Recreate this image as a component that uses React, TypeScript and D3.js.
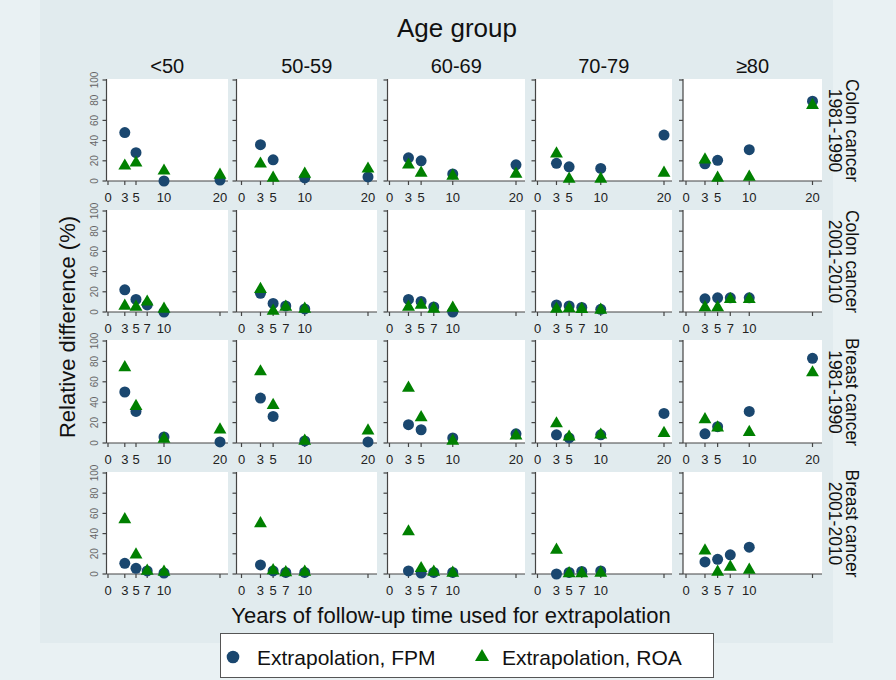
import React from "react";
import * as d3 from "d3";

// facet labels
const ageGroups = ["<50", "50-59", "60-69", "70-79", "≥80"];
const cohorts = [
  ["Colon cancer", "1981-1990"],
  ["Colon cancer", "2001-2010"],
  ["Breast cancer", "1981-1990"],
  ["Breast cancer", "2001-2010"],
];

// tick labels
const yTicks = [0, 20, 40, 60, 80, 100];
const xTicksOld = [0, 3, 5, 10, 20];
const xTicksNew = [0, 3, 5, 7, 10];

// follow-up years used for extrapolation
const yearsOld = [3, 5, 10, 20];
const yearsNew = [3, 5, 7, 10];

// relative difference (%), one inner array per age group
const fpmColon1981 = [[48, 28, 0, 1], [36, 21, 3, 4], [23, 20, 7, 16], [17.5, 14, 12.5, 45.5], [17, 20.5, 31, 79]];
const roaColon1981 = [[15, 18, 10, 6], [17, 3, 7, 12], [16, 8, 5, 7], [27, 2, 2, 8], [21, 3, 4, 75]];
const fpmColon2001 = [[22, 12.5, 7, 0], [18.5, 8.5, 6, 3], [12.5, 10.5, 5, 0], [7, 6, 4.5, 2.7], [13, 14, 14, 14]];
const roaColon2001 = [[6, 5, 10, 3], [22.5, 1, 5, 3], [5, 7, 3, 4], [3, 3.5, 2.7, 2], [4.5, 4.5, 12.5, 12.5]];
const fpmBreast1981 = [[50, 31, 6, 1], [44, 26, 2, 1], [18, 13, 5, 9], [8, 5, 8, 29], [9, 16, 31, 83]];
const roaBreast1981 = [[74, 36, 4, 13], [70, 37, 2, 12], [54, 25, 2, 7], [19, 6, 8, 9.5], [23, 15, 10.5, 69]];
const fpmBreast2001 = [[10.6, 5.6, 3, 1], [9, 3, 1.5, 1.5], [3, 1, 1.5, 1.5], [0, 1.5, 2.5, 3], [12, 14.5, 19, 26.5]];
const roaBreast2001 = [[54, 19, 3, 2], [50, 3.5, 1.5, 2], [42, 5.6, 2, 1], [23.7, 0.5, 0.5, 1], [23, 2, 7, 4]];

const rows = [
  { years: yearsOld, ticks: xTicksOld, fpm: fpmColon1981, roa: roaColon1981 },
  { years: yearsNew, ticks: xTicksNew, fpm: fpmColon2001, roa: roaColon2001 },
  { years: yearsOld, ticks: xTicksOld, fpm: fpmBreast1981, roa: roaBreast1981 },
  { years: yearsNew, ticks: xTicksNew, fpm: fpmBreast2001, roa: roaBreast2001 },
];

// panel geometry
const colAxisX = [106.5, 236.5, 387.5, 535.5, 683];
const colX0 = [108, 241.5, 389.5, 537.5, 686];
const colX20 = [220, 368, 516, 664, 812.5];
const colRight = [228, 377, 525, 672, 822];
const rowY0 = [181, 312, 443, 574];
const rowY100 = [80, 211, 341, 473];

const navy = "#1a476f";
const green = "#008000";
const font = "'Liberation Sans', Arial, sans-serif";

const circlePath = d3.symbol().type(d3.symbolCircle).size(95)()!;
const trianglePath = d3.symbol().type(d3.symbolTriangle).size(72)()!;
const legendCircle = d3.symbol().type(d3.symbolCircle).size(125)()!;
const legendTriangle = d3.symbol().type(d3.symbolTriangle).size(85)()!;

const Panel = ({ r, c }: { r: number; c: number }) => {
  const row = rows[r];
  const x = d3.scaleLinear().domain([0, 20]).range([colX0[c], colX20[c]]);
  const y = d3.scaleLinear().domain([0, 100]).range([rowY0[r], rowY100[r]]);
  const ax = colAxisX[c];
  const top = rowY100[r] - 1;
  const bottom = rowY0[r];
  const tickVals = row.ticks.includes(20) ? row.ticks : [...row.ticks, 20];
  return (
    <g>
      <rect x={ax} y={top} width={colRight[c] - ax} height={bottom - top} fill="#fff" />
      <line x1={ax} x2={ax} y1={top} y2={bottom} stroke="#444" strokeWidth={1.2} />
      <line x1={ax} x2={colRight[c]} y1={bottom} y2={bottom} stroke="#444" strokeWidth={1.2} />
      {yTicks.map((t) => (
        <line key={t} x1={ax - 4} x2={ax} y1={y(t)} y2={y(t)} stroke="#444" strokeWidth={1.2} />
      ))}
      {c === 0 &&
        yTicks.map((t) => (
          <text
            key={t}
            transform={`translate(97.5,${y(t)}) rotate(-90)`}
            textAnchor="middle"
            fontSize={10}
            fill="#666"
            fontFamily={font}
          >
            {t}
          </text>
        ))}
      {tickVals.map((t) => (
        <line key={t} x1={x(t)} x2={x(t)} y1={bottom} y2={bottom + 4} stroke="#444" strokeWidth={1.2} />
      ))}
      {row.ticks.map((t) => (
        <text key={t} x={x(t)} y={bottom + 21} textAnchor="middle" fontSize={13} fill="#222" fontFamily={font}>
          {t}
        </text>
      ))}
      {row.years.map((yr, i) => (
        <path key={"f" + yr} d={circlePath} transform={`translate(${x(yr)},${y(row.fpm[c][i])})`} fill={navy} />
      ))}
      {row.years.map((yr, i) => (
        <path key={"r" + yr} d={trianglePath} transform={`translate(${x(yr)},${y(row.roa[c][i])})`} fill={green} />
      ))}
    </g>
  );
};

const App = () => {
  const width = 896;
  const height = 680;
  return (
    <svg
      width={width}
      height={height}
      style={{ position: "absolute", left: 0, top: 0, display: "block" }}
      fontFamily={font}
    >
      <rect width={width} height={height} fill="#e9f1f3" />
      <rect x={40} y={0} width={793} height={643} fill="#e1ebee" />
      <text x={457} y={37} textAnchor="middle" fontSize={26} fill="#111">
        Age group
      </text>
      {ageGroups.map((g, c) => (
        <text key={g} x={(colAxisX[c] + colRight[c]) / 2} y={73} textAnchor="middle" fontSize={20} fill="#111">
          {g}
        </text>
      ))}
      {cohorts.map((lab, r) => {
        const cy = (rowY0[r] + rowY100[r]) / 2;
        return (
          <g key={r}>
            <text transform={`translate(846,${cy}) rotate(90)`} textAnchor="middle" fontSize={17.5} fill="#111">
              {lab[0]}
            </text>
            <text transform={`translate(829,${cy}) rotate(90)`} textAnchor="middle" fontSize={17.5} fill="#111">
              {lab[1]}
            </text>
          </g>
        );
      })}
      {rows.map((_, r) => ageGroups.map((_, c) => <Panel key={`${r}-${c}`} r={r} c={c} />))}
      <text transform="translate(75,327) rotate(-90)" textAnchor="middle" fontSize={22} fill="#111">
        Relative difference (%)
      </text>
      <text x={451} y={623} textAnchor="middle" fontSize={22} fill="#111">
        Years of follow-up time used for extrapolation
      </text>
      <rect x={220.5} y={633.5} width={493} height={44} fill="#fff" stroke="#555" strokeWidth={1} />
      <path d={legendCircle} transform="translate(233,657)" fill={navy} />
      <text x={257} y={664.5} fontSize={21} fill="#111">
        Extrapolation, FPM
      </text>
      <path d={legendTriangle} transform="translate(482,657)" fill={green} />
      <text x={502} y={664.5} fontSize={21} fill="#111">
        Extrapolation, ROA
      </text>
    </svg>
  );
};

export default App;
